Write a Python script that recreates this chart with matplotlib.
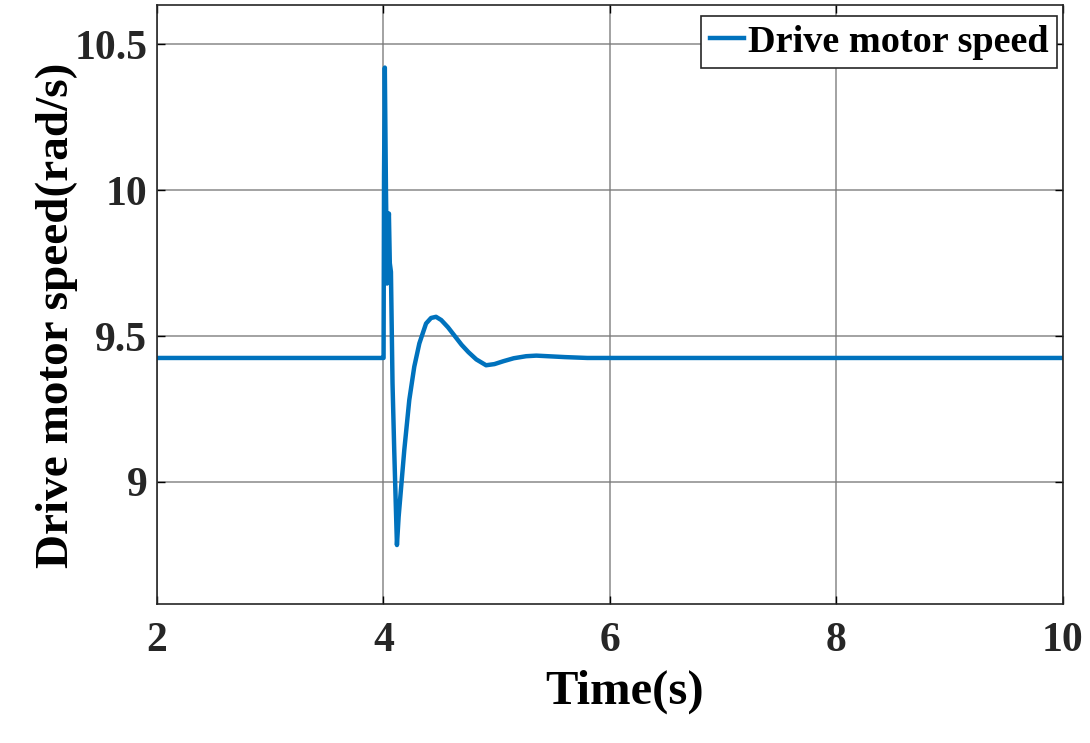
import matplotlib
matplotlib.use('Agg')
import matplotlib.pyplot as plt

# time (s) and drive motor speed (rad/s)
t = [2.0, 3.998, 4.001, 4.005, 4.012, 4.022, 4.032, 4.040, 4.048, 4.056, 4.066,
     4.080, 4.095, 4.119, 4.134, 4.184, 4.228, 4.272, 4.317, 4.376, 4.420,
     4.464, 4.510, 4.570, 4.630, 4.690, 4.750, 4.820, 4.906, 4.980, 5.060,
     5.150, 5.260, 5.350, 5.450, 5.600, 5.800, 10.0]
speed = [9.425, 9.425, 9.425, 10.05, 10.42, 10.0, 9.68, 9.85, 9.92, 9.75, 9.72,
         9.338, 9.11, 8.784, 8.881, 9.110, 9.281, 9.395, 9.475, 9.543, 9.562,
         9.566, 9.555, 9.530, 9.500, 9.470, 9.445, 9.420, 9.400, 9.404, 9.414,
         9.424, 9.431, 9.433, 9.431, 9.428, 9.425, 9.425]

xticks = [2, 4, 6, 8, 10]
yticks = [9, 9.5, 10, 10.5]
ytick_labels = ['9', '9.5', '10', '10.5']

plt.rcParams['font.family'] = ['Liberation Serif', 'DejaVu Serif']
plt.rcParams['font.weight'] = 'bold'

fig = plt.figure(figsize=(10.9, 7.43), dpi=100)
ax = fig.add_axes([0.144, 0.1871, 0.8312, 0.806])

ax.plot(t, speed, color='#0072BD', linewidth=3.2, label='Drive motor speed')

ax.set_xlim(2, 10)
ax.set_ylim(8.582, 10.634)
ax.set_xticks(xticks)
ax.set_xticklabels([str(v) for v in xticks])
ax.set_yticks(yticks)
ax.set_yticklabels(ytick_labels)
ax.tick_params(direction='in', length=6, width=1, labelsize=30,
               top=True, right=True)
ax.tick_params(axis='x', pad=13)
ax.tick_params(axis='y', pad=7)
for lab in ax.get_xticklabels() + ax.get_yticklabels():
    lab.set_fontweight('bold')
    lab.set_color('#262626')

ax.grid(True, color='#777777', linewidth=1.2, alpha=0.8)
for sp in ax.spines.values():
    sp.set_linewidth(1.2)
    sp.set_color('#262626')

ax.set_xlabel('Time(s)', fontsize=35, fontweight='bold')
ax.xaxis.set_label_coords(0.5166, -0.11)
ax.set_ylabel('Drive motor speed(rad/s)', fontsize=34, fontweight='bold')
ax.yaxis.set_label_coords(-0.111, 0.4825)
ax.yaxis.label.set_va('center')

leg = ax.legend(loc='upper right', bbox_to_anchor=(0.9934, 0.9816),
                prop={'weight': 'bold', 'size': 27.5},
                handlelength=0.9, handletextpad=0.1, borderpad=0.22,
                fancybox=False, framealpha=1, borderaxespad=0)
leg.get_frame().set_edgecolor('#262626')
leg.get_frame().set_linewidth(1.2)

fig.savefig('out.png', dpi=100)
